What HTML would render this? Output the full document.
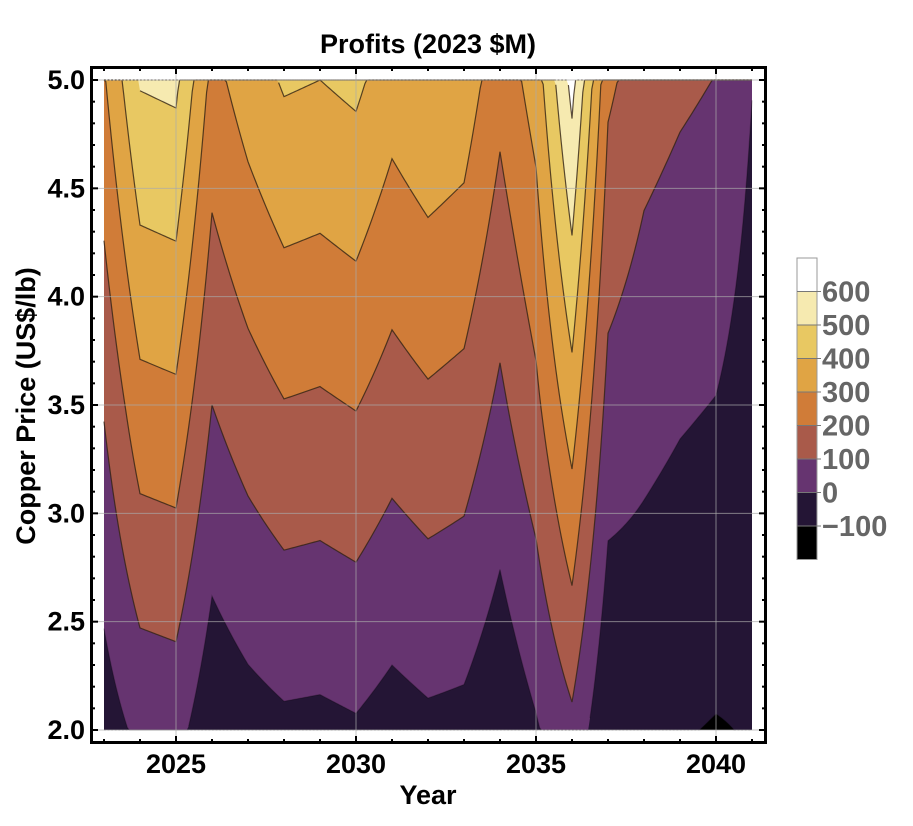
<!DOCTYPE html>
<html><head><meta charset="utf-8"><style>
html,body{margin:0;padding:0;background:#fff;}
svg{display:block;font-family:"Liberation Sans",Arial,sans-serif;font-weight:bold;}
</style></head><body>
<svg id="chart" width="913" height="826" viewBox="0 0 913 826" xmlns="http://www.w3.org/2000/svg">
<text x="428" y="53" text-anchor="middle" font-size="27">Profits (2023 $M)</text>
<g id="plot"></g>
<g id="axes"></g>
<text x="428" y="804" text-anchor="middle" font-size="27">Year</text>
<text transform="translate(35,406) rotate(-90)" text-anchor="middle" font-size="27">Copper Price (US$/lb)</text>
<g id="legend"></g>
</svg>
<script>
const years = [2023,2024,2025,2026,2027,2028,2029,2030,2031,2032,2033,2034,2035,2036,2037,2038,2039,2040,2041];
const profitAt2_0 = [-49,24,34,-70,-39,-19,-23,-11,-39,-20,-27,-78,-10,76,-92,-80,-94,-105,-95];
const profitAt3_5 = [108,266,277,100,154,196,188,204,156,184,166,80,177,355,66,33,11,-3,-45];
const profitAt5_0 = [290,508,521,269,349,411,400,421,346,385,362,234,345,633,220,145,117,98,3];
const levels = [-100,0,100,200,300,400,500,600];
const bandColors = ["#000000","#241535","#663470","#a95a4a","#d07c38","#e0a444","#e8c862","#f6eab0","#ffffff"];
const xTicks = [2025,2030,2035,2040];
const yTicks = [2.0,2.5,3.0,3.5,4.0,4.5,5.0];

const NS="http://www.w3.org/2000/svg";
const X0=104,X1=752,Y0=730,Y1=80;
const xMin=2023,xMax=2041,pMin=2,pMax=5;
const xs=v=>X0+(v-xMin)/(xMax-xMin)*(X1-X0);
const ys=v=>Y0-(v-pMin)/(pMax-pMin)*(Y0-Y1);
function mk(tag,attrs,parent){const e=document.createElementNS(NS,tag);for(const k in attrs)e.setAttribute(k,attrs[k]);parent.appendChild(e);return e;}
function colAt(t){
  let i=Math.min(Math.floor(t-xMin),years.length-2);const f=t-years[i];
  const L=(a)=>a[i]+(a[i+1]-a[i])*f;
  return [L(profitAt2_0),L(profitAt3_5),L(profitAt5_0)];
}
function crossing(t,lv){
  const [a,b,c]=colAt(t);
  if(lv<=a) return {p:2,clamp:true};
  if(lv<=b) return {p:2+1.5*(lv-a)/(b-a),clamp:false};
  if(lv<=c) return {p:3.5+1.5*(lv-b)/(c-b),clamp:false};
  return {p:5,clamp:true};
}
const plot=document.getElementById('plot');
const bg=mk('rect',{x:X0,y:Y1,width:X1-X0,height:Y0-Y1,fill:bandColors[0]},plot);


const step=0.05;
const lineGroup=document.createElementNS(NS,'g');
levels.forEach((lv,k)=>{
  const pts=[];let segs=[],cur=[];
  for(let t=xMin;t<=xMax+1e-9;t+=step){
    const c=crossing(Math.min(t,xMax),lv);
    const pt=[xs(Math.min(t,xMax)),ys(c.p)];
    pts.push(pt);
    if(!c.clamp){cur.push(pt);}else{if(cur.length){cur.push(pt);segs.push(cur);cur=[];} else cur=[pt];}
  }
  if(cur.length>1)segs.push(cur);
  const d=pts.map(p=>p.join(',')).join(' ')+` ${X1},${Y1} ${X0},${Y1}`;
  const poly=mk('polygon',{points:d,fill:bandColors[k+1]},plot);
  
  
  segs.forEach(s=>{
    if(s.length<2)return;
    const pl=mk('polyline',{points:s.map(p=>p.join(',')).join(' '),fill:'none',stroke:lv<=0?'rgba(0,0,0,0.25)':'rgba(50,35,20,0.8)','stroke-width':1.2},lineGroup);
    
    
  });
});
plot.appendChild(lineGroup);
const axes=document.getElementById('axes');
xTicks.forEach(v=>{
  const g=mk('line',{x1:xs(v),x2:xs(v),y1:67,y2:743,stroke:'rgba(170,170,170,0.7)','stroke-width':1},axes);
  
  
  const tl=mk('text',{x:xs(v),y:773,'text-anchor':'middle','font-size':27},axes);tl.textContent=v;
  
  
});
yTicks.forEach(v=>{
  const g=mk('line',{x1:91,x2:766,y1:ys(v),y2:ys(v),stroke:'rgba(170,170,170,0.7)','stroke-width':1},axes);
  
  
  const tl=mk('text',{x:85,y:ys(v)+9,'text-anchor':'end','font-size':27},axes);tl.textContent=v.toFixed(1);
  
  
});
for(let yr=2023;yr<=2041;yr++){
  const L=(yr%5===0)?7:4;
  mk('line',{x1:xs(yr),x2:xs(yr),y1:743,y2:743-L,stroke:'#000','stroke-width':2},axes);
  mk('line',{x1:xs(yr),x2:xs(yr),y1:67,y2:67+L,stroke:'#000','stroke-width':2},axes);
}
for(let i=0;i<=30;i++){
  const p=2+i*0.1;const L=(i%5===0)?7:4;
  mk('line',{x1:91,x2:91+L,y1:ys(p),y2:ys(p),stroke:'#000','stroke-width':2},axes);
  mk('line',{x1:766,x2:766-L,y1:ys(p),y2:ys(p),stroke:'#000','stroke-width':2},axes);
}
const fr=mk('rect',{x:91.5,y:67.5,width:674,height:675,fill:'none',stroke:'#000','stroke-width':3},axes);


const legend=document.getElementById('legend');
const legTop=258,bandH=33.5,legX=797,legW=20;
for(let k=0;k<bandColors.length;k++){
  const idx=bandColors.length-1-k;
  const r=mk('rect',{x:legX,y:legTop+k*bandH,width:legW,height:bandH+0.5,fill:bandColors[idx]},legend);
  
  
}
mk('rect',{x:legX,y:legTop,width:legW,height:bandH*9,fill:'none',stroke:'#999','stroke-width':1},legend);
levels.slice().reverse().forEach((lv,k)=>{
  const y=legTop+(k+1)*bandH;
  mk('line',{x1:legX,x2:legX+legW+4,y1:y,y2:y,stroke:'#777','stroke-width':1},legend);
  const t=mk('text',{x:legX+25,y:y+10,'font-size':29,fill:'#666'},legend);
  t.textContent=lv<0?'\u2212'+Math.abs(lv):String(lv);
  
  
});
</script>
</body></html>
